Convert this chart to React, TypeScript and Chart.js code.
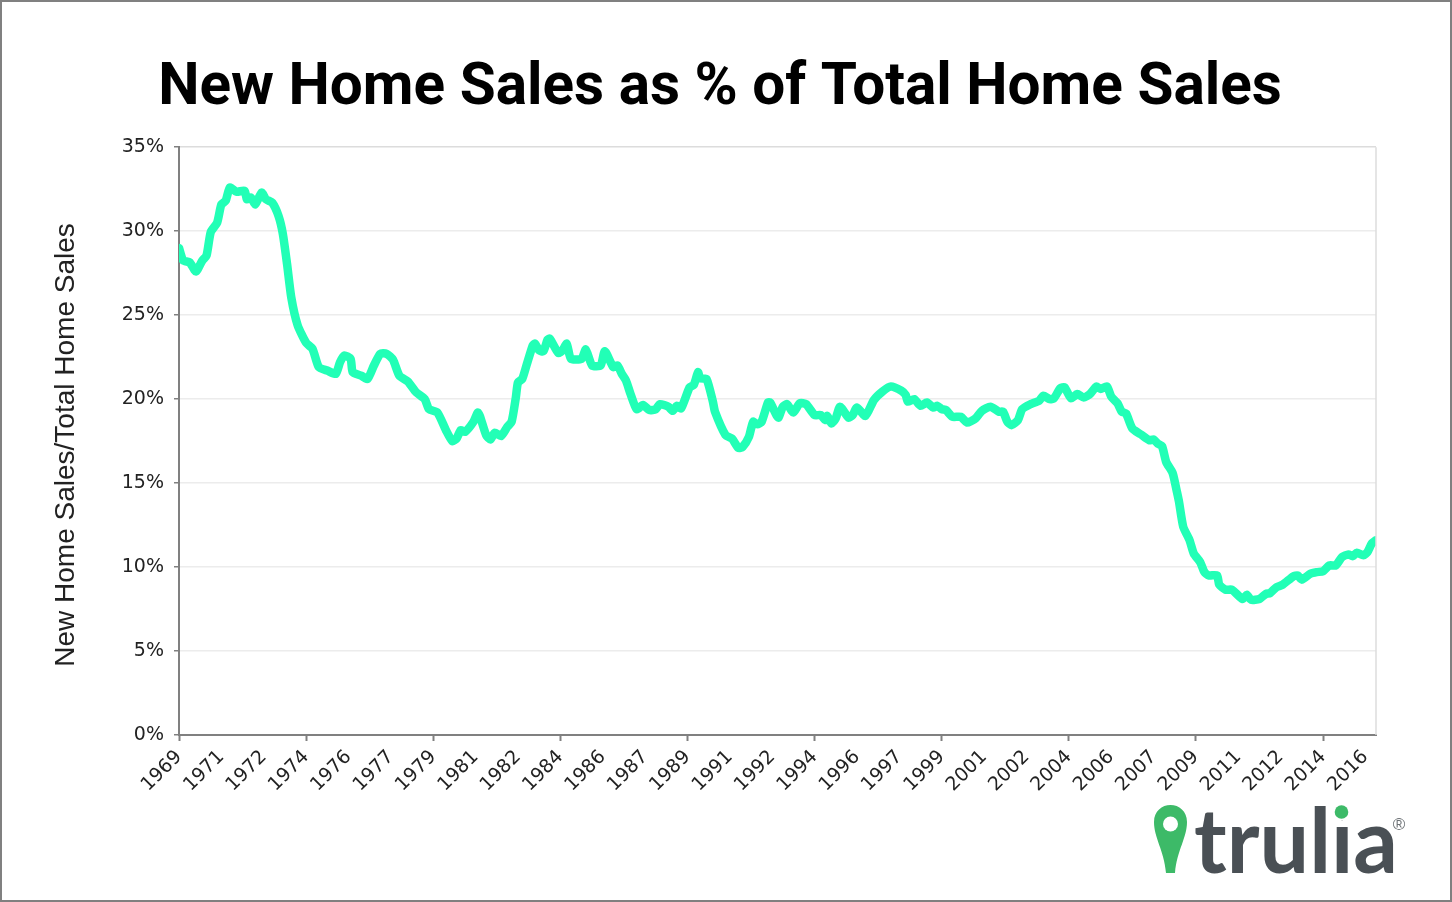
import React, { useEffect, useRef } from "react";
import { Chart, registerables } from "chart.js";

Chart.register(...registerables);

const tickLabels = ["1969","1971","1972","1974","1976","1977","1979","1981","1982","1984","1986","1987","1989","1991","1992","1994","1996","1997","1999","2001","2002","2004","2006","2007","2009","2011","2012","2014","2016"];

const monthsA = [0,2,5,8,11,13,15,18,20,22,24,27,31,32,34,36,39,41,44,47,49,51,53,56,60,63,66,70,74,76,78,81,82,86,89,92,95,98,101,104,108,112,116,118,122,126,129,131,133,135,139,141,142,145,147,149,152,155,157,159,160,162,164,167,168,170,172,174,175,179];
const valuesA = [29.0,28.25,28.15,27.6,28.25,28.55,29.95,30.5,31.6,31.8,32.6,32.35,32.4,31.9,32.0,31.6,32.3,31.9,31.7,30.9,29.85,28.05,26.05,24.4,23.35,23.0,21.9,21.7,21.5,22.2,22.6,22.4,21.6,21.4,21.2,22.0,22.7,22.7,22.35,21.4,21.05,20.4,20.0,19.4,19.2,18.15,17.5,17.65,18.15,18.05,18.65,19.2,19.0,17.85,17.6,18.0,17.8,18.35,18.65,20.1,21.0,21.2,22.0,23.2,23.3,22.9,22.85,23.55,23.6,22.75];

const monthsB = [181,183,185,190,192,195,199,201,205,207,209,211,213,216,219,222,225,227,231,233,235,237,241,243,245,246,249,252,253,258,261,264,266,269,271,273,275,278,279,282,283,285,287,290,293,296,300,303,305,306,308,310,312,316,318,320,324,328,332,336,341,343,344,347,350,353,356,358,360,362,365,369,372];
const valuesB = [22.9,23.3,22.4,22.4,22.95,22.0,22.0,22.85,21.9,22.0,21.5,21.1,20.35,19.4,19.65,19.35,19.4,19.7,19.55,19.3,19.6,19.45,20.7,20.85,21.6,21.25,21.2,19.85,19.25,17.85,17.65,17.1,17.15,17.75,18.65,18.5,18.65,19.8,19.8,19.05,18.9,19.55,19.7,19.2,19.75,19.7,19.05,19.05,18.75,19.0,18.55,18.85,19.55,18.9,19.05,19.5,19.0,19.95,20.45,20.75,20.5,20.25,19.85,20.0,19.6,19.8,19.5,19.6,19.4,19.35,18.95,18.95,18.6];

const monthsC = [374,376,379,383,387,389,391,393,396,398,402,406,408,411,413,416,418,421,424,427,430,433,435,438,440,443,445,447,450,454,458,460,462,464,466,469,471,472,474,477,479,482,484,486,490,491,494,497,502,504,506,510,513,515,518,521,526,528,530,534,537,540,543,546,549,552,554,556,559,561,563,565];
const valuesC = [18.7,18.85,19.3,19.55,19.25,19.25,18.65,18.45,18.75,19.4,19.7,19.9,20.2,20.0,20.05,20.65,20.7,20.05,20.3,20.1,20.3,20.75,20.6,20.75,20.15,19.75,19.25,19.15,18.25,17.9,17.55,17.6,17.35,17.2,16.25,15.6,14.5,13.9,12.4,11.6,10.8,10.3,9.7,9.5,9.5,8.95,8.65,8.65,8.1,8.35,8.05,8.1,8.4,8.45,8.8,8.95,9.45,9.5,9.25,9.6,9.7,9.75,10.1,10.1,10.6,10.75,10.65,10.85,10.7,10.9,11.4,11.6];

const months = [...monthsA, ...monthsB, ...monthsC];
const shares = [...valuesA, ...valuesB, ...valuesC];

const titleText = "New Home Sales as % of Total Home Sales";
const axisTitle = "New Home Sales/Total Home Sales ";
const AXIS = "#808080";
const GRID = "#ececec";

const frame = {
  id: "frame",
  afterDatasetsDraw(chart: any) {
    const { ctx, chartArea: a } = chart;
    ctx.save();
    ctx.strokeStyle = "#dcdcdc";
    ctx.lineWidth = 1.5;
    ctx.beginPath();
    ctx.moveTo(a.right, a.top);
    ctx.lineTo(a.right, a.bottom);
    ctx.stroke();
    ctx.restore();
  },
  afterDraw(chart: any) {
    const { ctx } = chart;
    ctx.save();
    // pin
    ctx.fillStyle = "#3dba68";
    ctx.beginPath();
    ctx.moveTo(1166, 873);
    ctx.lineTo(1175, 873);
    ctx.bezierCurveTo(1177, 850, 1187, 838, 1187, 822);
    ctx.bezierCurveTo(1187, 811, 1179, 805, 1170.5, 805);
    ctx.bezierCurveTo(1162, 805, 1154, 811, 1154, 822);
    ctx.bezierCurveTo(1154, 838, 1164, 850, 1166, 873);
    ctx.closePath();
    ctx.fill();
    ctx.fillStyle = "#fff";
    ctx.beginPath();
    ctx.arc(1170.5, 824, 7.5, 0, Math.PI * 2);
    ctx.fill();
    // wordmark
    ctx.font = "bold 90px Lato";
    ctx.textAlign = "left";
    ctx.textBaseline = "alphabetic";
    ctx.fillStyle = "#4a5055";
    const w = ctx.measureText("trulia").width;
    ctx.save();
    ctx.translate(1194, 873);
    ctx.scale(204 / w, 1);
    ctx.fillText("trulia", 0, 0);
    ctx.restore();
    // dot of the i, in the logo's green
    ctx.fillStyle = "#fff";
    ctx.fillRect(1330, 800, 24, 20);
    ctx.fillStyle = "#3dba68";
    ctx.beginPath();
    ctx.arc(1341.5, 812, 6.8, 0, Math.PI * 2);
    ctx.fill();
    ctx.fillStyle = "#6b7074";
    ctx.font = "17px 'Liberation Sans'";
    ctx.textAlign = "center";
    ctx.fillText("®", 1399, 830);
    ctx.restore();
  },
};

export default function App() {
  const ref = useRef<HTMLCanvasElement>(null);
  useEffect(() => {
    document.body.style.margin = "0";
    const chart = new Chart(ref.current!, {
      type: "line",
      data: {
        datasets: [
          {
            data: months.map((m, i) => ({ x: m, y: shares[i] })),
            borderColor: "#22ffb6",
            borderWidth: 8.5,
            pointRadius: 0,
            borderJoinStyle: "round",
            borderCapStyle: "round",
            tension: 0.2,
          },
        ],
      },
      plugins: [frame],
      options: {
        animation: false,
        responsive: false,
        layout: { padding: { left: 64, right: 64, top: 0, bottom: 0 } },
        plugins: {
          legend: { display: false },
          tooltip: { enabled: false },
          title: {
            display: true,
            text: titleText,
            color: "#000",
            font: { family: "Roboto", weight: "bold", size: 58.5 },
            padding: { top: 54, bottom: 23 },
          },
        },
        scales: {
          x: {
            type: "linear",
            min: 0,
            max: 565,
            afterFit: (s: any) => { s.height = 167; },
            border: { color: AXIS, width: 2 },
            grid: {
              drawOnChartArea: false,
              tickLength: 6,
              tickWidth: 2,
              tickColor: (c: any) => (c.tick && c.tick.value % 60 === 0 ? AXIS : "rgba(0,0,0,0)"),
            },
            ticks: {
              stepSize: 20,
              includeBounds: false,
              autoSkip: false,
              maxRotation: 45,
              minRotation: 45,
              color: "#222",
              padding: 5,
              font: { family: "DejaVu Sans", size: 19 },
              callback: (v: any) => tickLabels[Number(v) / 20],
            },
          },
          y: {
            min: 0,
            max: 35,
            afterFit: (s: any) => { s.width = 115; },
            border: { color: AXIS, width: 2 },
            grid: {
              color: (c: any) => (c.tick && c.tick.value === 35 ? "#dcdcdc" : GRID),
              lineWidth: 1.5,
              tickLength: 5,
              tickColor: AXIS,
              tickWidth: 1.5,
            },
            ticks: {
              stepSize: 5,
              color: "#222",
              padding: 10,
              font: { family: "DejaVu Sans", size: 19 },
              callback: (v: any) => `${v}%`,
            },
            title: {
              display: true,
              text: axisTitle,
              color: "#222",
              font: { family: "Liberation Sans", size: 28 },
              padding: { top: -15, bottom: 0 },
            },
          },
        },
      },
    } as any);
    return () => chart.destroy();
  }, []);
  return (
    <div style={{ position: "relative", width: 1452, height: 902, boxSizing: "border-box", border: "2px solid #808080", background: "#fff", overflow: "hidden" }}>
      <canvas ref={ref} width={1440} height={902} style={{ position: "absolute", left: -2, top: -2, display: "block" }} />
    </div>
  );
}
